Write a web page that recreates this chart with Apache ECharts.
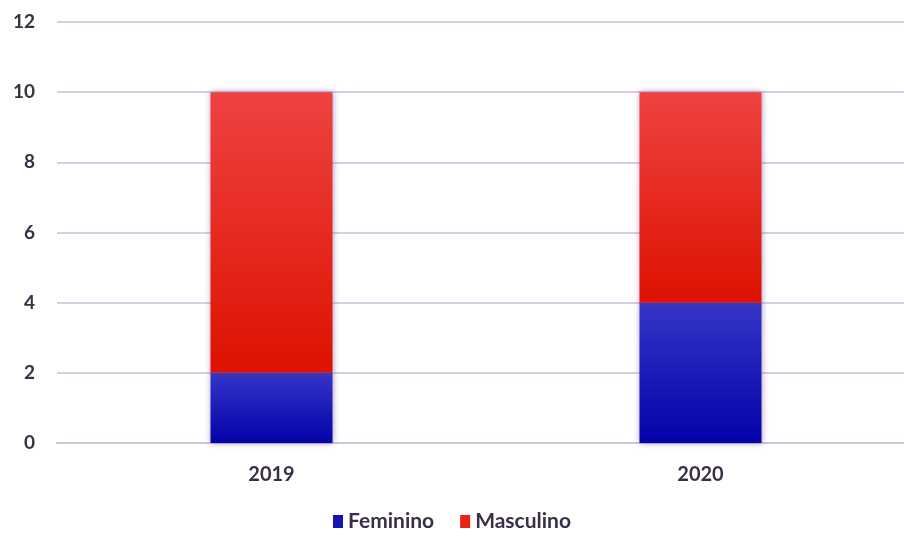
<!DOCTYPE html>
<html>
<head>
<meta charset="utf-8">
<script src="https://cdn.jsdelivr.net/npm/echarts@6/dist/echarts.min.js"></script>
<style>
html,body{margin:0;padding:0;background:#fff;}
#chart{width:904px;height:536px;}
</style>
</head>
<body>
<div id="chart"></div>
<script>
// Categories and stacked values per gender
const years = ['2019', '2020'];
const feminino = [2, 4];
const masculino = [8, 6];
const yTicks = { min: 0, max: 12, interval: 2 };

const textColor = '#3a3046';
const chart = echarts.init(document.getElementById('chart'));

function grad(top, bottom) {
  return new echarts.graphic.LinearGradient(0, 0, 0, 1, [
    { offset: 0, color: top },
    { offset: 1, color: bottom }
  ]);
}

const barShadow = {
  shadowColor: 'rgba(90,60,140,0.55)',
  shadowBlur: 6,
  shadowOffsetX: 0,
  shadowOffsetY: 0
};

chart.setOption({
  animation: false,
  backgroundColor: '#ffffff',
  textStyle: { fontFamily: 'Lato, "Open Sans", sans-serif' },
  grid: {
    left: 57, right: -11, top: 22, bottom: 93,
    containLabel: false,
    outerBoundsMode: 'none'
  },
  legend: {
    bottom: -1,
    left: 'center',
    itemWidth: 10,
    itemHeight: 13,
    itemGap: 26,
    icon: 'rect',
    textStyle: { fontSize: 21, color: textColor, fontWeight: 'bold', fontFamily: 'Lato, sans-serif' },
    data: [
      { name: 'Feminino', itemStyle: { color: '#1414b4' } },
      { name: 'Masculino', itemStyle: { color: '#e82418' } }
    ]
  },
  xAxis: {
    type: 'category',
    data: years,
    axisLine: { show: true, lineStyle: { color: '#cfc3dc', width: 2 } },
    axisTick: { show: false },
    axisLabel: { fontSize: 20, color: textColor, fontWeight: 'bold', margin: 22 }
  },
  yAxis: {
    type: 'value',
    min: yTicks.min,
    max: yTicks.max,
    interval: yTicks.interval,
    axisLine: { show: false },
    axisTick: { show: false },
    axisLabel: { fontSize: 19, color: textColor, margin: 22, fontWeight: 'bold' },
    splitLine: { lineStyle: { color: '#d8cde3', width: 2 } }
  },
  series: [
    {
      name: 'Feminino',
      type: 'bar',
      stack: 'total',
      barWidth: 122,
      data: feminino,
      itemStyle: Object.assign({ color: grad('#3535c8', '#0202a8') }, barShadow)
    },
    {
      name: 'Masculino',
      type: 'bar',
      stack: 'total',
      barWidth: 122,
      data: masculino,
      itemStyle: Object.assign({ color: grad('#ee4242', '#dd1200') }, barShadow)
    }
  ]
});
</script>
</body>
</html>
